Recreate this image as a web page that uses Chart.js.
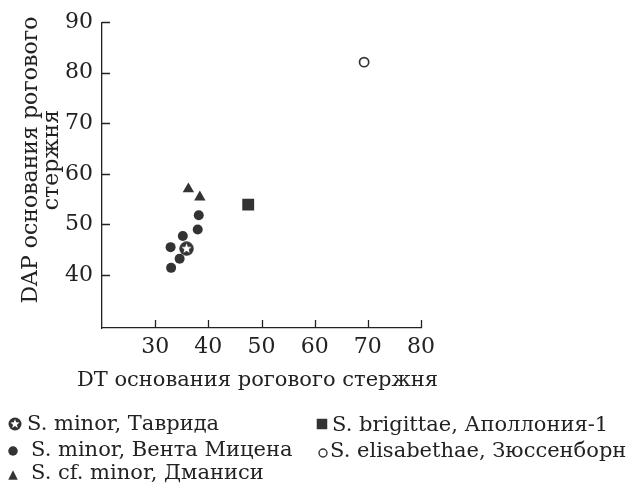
<!DOCTYPE html>
<html>
<head>
<meta charset="utf-8">
<script src="https://cdn.jsdelivr.net/npm/chart.js@4/dist/chart.umd.min.js"></script>
<style>
html,body{margin:0;padding:0;background:#fff;width:631px;height:484px;overflow:hidden;}
#wrap{position:absolute;left:0;top:0;width:631px;height:400px;}
#legend{position:absolute;left:0;top:0;width:631px;height:484px;font-family:"DejaVu Serif",serif;color:#222;}
.ltext{position:absolute;white-space:nowrap;font-size:21px;line-height:21px;}
.lsym{position:absolute;}
</style>
</head>
<body>
<div id="wrap"><canvas id="c" width="631" height="400"></canvas></div>
<div id="legend"></div>
<script>
// ---- data ----
const xTicks = [30, 40, 50, 60, 70, 80];
const yTicks = [40, 50, 60, 70, 80, 90];
const xTitle = 'DT основания рогового стержня';
const yTitle = ['DAP основания рогового', 'стержня'];
const seriesNames = [
  'S. minor, Таврида',
  'S. minor, Вента Мицена',
  'S. cf. minor, Дманиси',
  'S. brigittae, Аполлония-1',
  'S. elisabethae, Зюссенборн'
];
const tavridaX = [35.9];
const tavridaY = [45.2];
const ventaX = [38.2, 38.0, 35.2, 32.9, 34.6, 33.0];
const ventaY = [51.8, 49.0, 47.7, 45.5, 43.2, 41.4];
const dmanisiX = [36.25, 38.4];
const dmanisiY = [57.0, 55.4];
const brigittaeX = [47.5];
const brigittaeY = [53.9];
const elisX = [69.3];
const elisY = [82.1];

// ---- styles ----
const INK = '#222';
const MARK = '#333';
const FONT = '"DejaVu Serif", serif';

function zip(xs, ys) { return xs.map((x, i) => ({x: x, y: ys[i]})); }

// shift the library's own title drawing by (dx, dy) pixels and give the
// horizontal title room so it is not squeezed to the axis width
function shiftTitle(dx, dy) {
  return function (scale) {
    if (scale._titleShifted) return;
    scale._titleShifted = true;
    const orig = scale.drawTitle;
    scale.drawTitle = function () {
      const L = this.left, R = this.right, T = this.top, B = this.bottom;
      if (this.isHorizontal()) { this.left = L - 60 + dx; this.right = R + 60 + dx; }
      else { this.top = T + 2 * dy; }
      orig.call(this);
      this.left = L; this.right = R; this.top = T; this.bottom = B;
    };
  };
}

function drawStar(g, cx, cy, r) {
  g.fillStyle = MARK;
  g.beginPath(); g.arc(cx, cy, r, 0, Math.PI * 2); g.fill();
  g.fillStyle = '#fff';
  g.beginPath();
  for (let i = 0; i < 10; i++) {
    const a = -Math.PI / 2 + i * Math.PI / 5;
    const rr = i % 2 === 0 ? r * 0.74 : r * 0.32;
    g.lineTo(cx + rr * Math.cos(a), cy + rr * Math.sin(a));
  }
  g.closePath(); g.fill();
}
function makeStarImage(d) {
  const c = document.createElement('canvas');
  c.width = d; c.height = d;
  drawStar(c.getContext('2d'), d / 2, d / 2, d / 2 - 0.3);
  return c;
}
function drawSymbol(g, kind, cx, cy, s) {
  g.save();
  if (kind === 'star') { drawStar(g, cx, cy, s / 2); }
  else if (kind === 'dot') { g.fillStyle = MARK; g.beginPath(); g.arc(cx, cy, s / 2, 0, Math.PI * 2); g.fill(); }
  else if (kind === 'tri') {
    g.fillStyle = MARK; g.beginPath();
    g.moveTo(cx, cy - s / 2); g.lineTo(cx + s / 2, cy + s / 2); g.lineTo(cx - s / 2, cy + s / 2);
    g.closePath(); g.fill();
  }
  else if (kind === 'square') { g.fillStyle = MARK; g.fillRect(cx - s / 2, cy - s / 2, s, s); }
  else if (kind === 'ring') {
    g.strokeStyle = MARK; g.lineWidth = 1.4; g.beginPath(); g.arc(cx, cy, s / 2 - 0.8, 0, Math.PI * 2); g.stroke();
  }
  g.restore();
}

const starImg = makeStarImage(15);

// inward tick marks drawn from the library's scales
const inwardTicks = {
  id: 'inwardTicks',
  afterDraw(chart) {
    const {ctx, chartArea: a, scales: {x, y}} = chart;
    ctx.save();
    ctx.strokeStyle = INK;
    ctx.lineWidth = 1.3;
    ctx.beginPath();
    x.ticks.forEach(t => {
      const px = Math.round(x.getPixelForValue(t.value)) + 0.5;
      ctx.moveTo(px, a.bottom); ctx.lineTo(px, a.bottom - 8);
    });
    y.ticks.forEach(t => {
      const py = Math.round(y.getPixelForValue(t.value)) + 0.5;
      ctx.moveTo(a.left, py); ctx.lineTo(a.left + 8, py);
    });
    ctx.stroke();
    ctx.restore();
  }
};

const datasets = [
  {label: seriesNames[0], data: zip(tavridaX, tavridaY), pointStyle: starImg, pointRadius: 7.5},
  {label: seriesNames[1], data: zip(ventaX, ventaY), pointStyle: 'circle', pointRadius: 5,
   backgroundColor: MARK, borderColor: MARK, borderWidth: 0},
  {label: seriesNames[2], data: zip(dmanisiX, dmanisiY), pointStyle: 'triangle', pointRadius: 6.6,
   backgroundColor: MARK, borderColor: MARK, borderWidth: 0},
  {label: seriesNames[3], data: zip(brigittaeX, brigittaeY), pointStyle: 'rect', pointRadius: 8.4,
   backgroundColor: MARK, borderColor: MARK, borderWidth: 0},
  {label: seriesNames[4], data: zip(elisX, elisY), pointStyle: 'circle', pointRadius: 4.6,
   backgroundColor: '#fff', borderColor: MARK, borderWidth: 1.7}
];

new Chart(document.getElementById('c'), {
  type: 'scatter',
  data: {datasets: datasets},
  options: {
    responsive: false,
    animation: false,
    events: [],
    layout: {padding: {top: 22, right: 210, left: 0, bottom: 0}},
    plugins: {legend: {display: false}, tooltip: {enabled: false}},
    scales: {
      x: {
        type: 'linear', min: 20, max: 80,
        afterBuildTicks: s => { s.ticks = xTicks.map(v => ({value: v})); },
        afterFit: s => { s.height = 72; },
        afterUpdate: shiftTitle(-4, 0),
        grid: {display: false, drawTicks: false},
        border: {display: true, color: INK, width: 1.3},
        ticks: {color: INK, padding: 6, font: {family: FONT, size: 22}, maxRotation: 0},
        title: {display: true, text: xTitle, color: INK, font: {family: FONT, size: 21}, padding: {top: 0, bottom: 7}}
      },
      y: {
        type: 'linear', min: 29.5, max: 90,
        afterBuildTicks: s => { s.ticks = yTicks.map(v => ({value: v})); },
        afterFit: s => { s.width = 102; },
        afterUpdate: shiftTitle(0, -15),
        grid: {display: false, drawTicks: false},
        border: {display: true, color: INK, width: 1.3},
        ticks: {color: INK, padding: 9, font: {family: FONT, size: 22}},
        title: {display: true, text: yTitle, color: INK,
                font: {family: FONT, size: 22, lineHeight: '21px'}, padding: {top: 20.5, bottom: 0}}
      }
    }
  },
  plugins: [inwardTicks]
});

// ---- legend (HTML text, symbols drawn on small canvases) ----
const legendKinds = ['star', 'dot', 'tri', 'square', 'ring'];
const legendLayout = [
  {sx: 15, sy: 423.5, size: 13, tx: 27, base: 431},
  {sx: 13.3, sy: 450.7, size: 9.5, tx: 31, base: 456.5},
  {sx: 13.3, sy: 474.5, size: 9.5, tx: 31, base: 479.5},
  {sx: 322, sy: 424, size: 10.5, tx: 332, base: 431.5},
  {sx: 322.8, sy: 452.5, size: 9.5, tx: 330, base: 457.5}
];
const legendEl = document.getElementById('legend');
seriesNames.forEach((name, i) => {
  const L = legendLayout[i];
  const cv = document.createElement('canvas');
  const box = 18;
  cv.width = box; cv.height = box; cv.className = 'lsym';
  cv.style.left = (L.sx - box / 2) + 'px';
  cv.style.top = (L.sy - box / 2) + 'px';
  drawSymbol(cv.getContext('2d'), legendKinds[i], box / 2, box / 2, L.size);
  legendEl.appendChild(cv);
  const t = document.createElement('div');
  t.className = 'ltext';
  t.textContent = name;
  t.style.left = L.tx + 'px';
  t.style.top = (L.base - 17.8) + 'px';
  legendEl.appendChild(t);
});
</script>
</body>
</html>
